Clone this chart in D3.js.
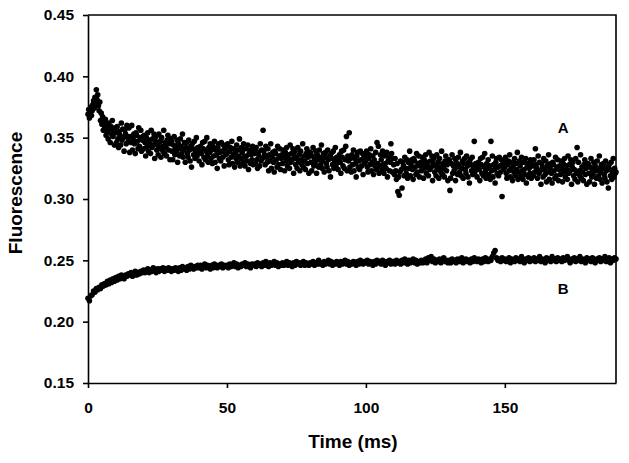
<!DOCTYPE html>
<html>
<head>
<meta charset="utf-8">
<script src="https://cdn.jsdelivr.net/npm/d3@7"></script>
<style>
  html, body { margin: 0; padding: 0; background: #fff; }
  svg { display: block; }
  text { font-family: "Liberation Sans", Arial, sans-serif; font-weight: bold; fill: #000; }
</style>
</head>
<body>
<svg id="chart" width="629" height="463"></svg>
<script>
// ---- data ----
// Trace A sampled every 0.25 ms, trace B every 0.5 ms, both starting at 0 ms.
const stepA = 0.25;
const stepB = 0.5;

const seriesA = [
  0.369,0.373,0.366,0.371,0.375,0.368,0.372,0.377,0.380,0.374,0.383,0.378,0.389,0.381,0.385,0.376,0.372,0.379,0.364,0.370,
  0.361,0.367,0.356,0.363,0.358,0.365,0.352,0.360,0.355,0.349,0.362,0.357,0.346,0.359,0.353,0.364,0.351,0.356,0.344,0.358,
  0.354,0.346,0.359,0.349,0.342,0.355,0.352,0.344,0.362,0.348,0.357,0.350,0.339,0.356,0.353,0.345,0.360,0.351,0.347,0.358,
  0.338,0.351,0.346,0.360,0.340,0.349,0.353,0.345,0.337,0.354,0.352,0.347,0.341,0.358,0.343,0.350,0.356,0.339,0.348,0.351,
  0.341,0.352,0.346,0.335,0.350,0.343,0.354,0.339,0.348,0.345,0.337,0.356,0.342,0.349,0.344,0.353,0.333,0.347,0.351,0.340,
  0.344,0.336,0.353,0.341,0.347,0.334,0.350,0.343,0.339,0.356,0.337,0.346,0.342,0.335,0.348,0.352,0.340,0.345,0.332,0.349,
  0.347,0.339,0.332,0.344,0.351,0.336,0.342,0.338,0.348,0.330,0.345,0.341,0.335,0.349,0.343,0.337,0.353,0.334,0.340,0.346,
  0.330,0.342,0.346,0.337,0.334,0.348,0.340,0.331,0.343,0.326,0.345,0.341,0.336,0.347,0.333,0.339,0.350,0.335,0.342,0.338,
  0.331,0.340,0.343,0.337,0.328,0.346,0.341,0.334,0.347,0.332,0.339,0.350,0.335,0.330,0.342,0.338,0.345,0.333,0.340,0.329,
  0.343,0.335,0.347,0.330,0.340,0.336,0.325,0.342,0.345,0.333,0.338,0.331,0.346,0.339,0.334,0.344,0.327,0.341,0.336,0.343,
  0.337,0.345,0.332,0.328,0.339,0.342,0.334,0.347,0.329,0.336,0.341,0.326,0.338,0.333,0.344,0.330,0.340,0.335,0.349,0.327,
  0.333,0.342,0.338,0.330,0.345,0.334,0.327,0.341,0.335,0.331,0.344,0.324,0.337,0.340,0.329,0.336,0.332,0.343,0.328,0.339,
  0.337,0.329,0.342,0.332,0.325,0.338,0.335,0.327,0.345,0.331,0.340,0.333,0.356,0.339,0.336,0.328,0.343,0.334,0.330,0.341,
  0.323,0.336,0.331,0.345,0.325,0.334,0.338,0.330,0.322,0.339,0.337,0.332,0.326,0.343,0.328,0.335,0.341,0.324,0.333,0.336,
  0.329,0.340,0.334,0.323,0.338,0.331,0.342,0.327,0.336,0.333,0.325,0.344,0.330,0.337,0.332,0.341,0.321,0.335,0.339,0.328,
  0.333,0.325,0.342,0.330,0.336,0.323,0.339,0.332,0.328,0.345,0.326,0.335,0.331,0.324,0.337,0.341,0.329,0.334,0.321,0.338,
  0.338,0.330,0.323,0.335,0.342,0.327,0.333,0.329,0.339,0.321,0.336,0.332,0.326,0.340,0.334,0.328,0.344,0.325,0.331,0.337,
  0.322,0.334,0.338,0.329,0.326,0.340,0.332,0.323,0.335,0.318,0.337,0.333,0.328,0.339,0.325,0.331,0.342,0.327,0.334,0.330,
  0.324,0.333,0.336,0.330,0.321,0.339,0.334,0.327,0.340,0.325,0.332,0.343,0.351,0.323,0.335,0.331,0.354,0.326,0.333,0.322,
  0.336,0.328,0.340,0.323,0.333,0.329,0.318,0.335,0.338,0.326,0.331,0.324,0.339,0.332,0.327,0.337,0.320,0.334,0.329,0.336,
  0.331,0.339,0.326,0.322,0.333,0.336,0.328,0.341,0.323,0.330,0.335,0.320,0.332,0.327,0.338,0.324,0.346,0.329,0.343,0.321,
  0.327,0.336,0.332,0.324,0.339,0.328,0.321,0.335,0.329,0.325,0.338,0.318,0.331,0.334,0.323,0.330,0.345,0.337,0.322,0.333,
  0.328,0.320,0.333,0.323,0.316,0.329,0.306,0.318,0.303,0.322,0.331,0.324,0.309,0.330,0.327,0.319,0.334,0.325,0.321,0.332,
  0.317,0.330,0.325,0.339,0.319,0.328,0.332,0.324,0.316,0.333,0.331,0.326,0.320,0.337,0.322,0.329,0.335,0.318,0.327,0.330,
  0.323,0.334,0.328,0.317,0.332,0.325,0.336,0.321,0.330,0.327,0.319,0.338,0.324,0.331,0.326,0.335,0.315,0.329,0.333,0.322,
  0.327,0.319,0.336,0.324,0.330,0.317,0.333,0.326,0.322,0.339,0.320,0.329,0.325,0.318,0.331,0.335,0.323,0.328,0.315,0.332,
  0.332,0.307,0.317,0.329,0.336,0.321,0.327,0.323,0.333,0.315,0.330,0.326,0.320,0.334,0.328,0.322,0.338,0.319,0.325,0.331,
  0.317,0.329,0.333,0.324,0.321,0.335,0.327,0.318,0.330,0.313,0.332,0.328,0.323,0.334,0.320,0.326,0.347,0.322,0.329,0.325,
  0.318,0.327,0.330,0.324,0.315,0.333,0.328,0.321,0.334,0.319,0.326,0.337,0.322,0.317,0.329,0.325,0.332,0.320,0.327,0.316,
  0.347,0.323,0.335,0.318,0.328,0.324,0.313,0.330,0.333,0.321,0.326,0.319,0.334,0.327,0.322,0.332,0.302,0.329,0.324,0.331,
  0.326,0.334,0.321,0.317,0.328,0.331,0.323,0.336,0.318,0.325,0.330,0.315,0.327,0.322,0.333,0.319,0.329,0.324,0.338,0.316,
  0.322,0.331,0.327,0.319,0.334,0.323,0.316,0.330,0.324,0.320,0.333,0.313,0.326,0.329,0.318,0.325,0.321,0.332,0.317,0.328,
  0.327,0.319,0.332,0.322,0.341,0.328,0.325,0.317,0.335,0.321,0.330,0.323,0.312,0.329,0.326,0.318,0.333,0.324,0.320,0.331,
  0.314,0.327,0.322,0.336,0.316,0.325,0.329,0.321,0.313,0.330,0.328,0.323,0.317,0.334,0.319,0.326,0.332,0.315,0.324,0.327,
  0.320,0.331,0.325,0.314,0.329,0.322,0.333,0.318,0.327,0.324,0.316,0.335,0.321,0.328,0.323,0.332,0.312,0.326,0.330,0.319,
  0.324,0.316,0.333,0.321,0.342,0.314,0.330,0.323,0.319,0.336,0.317,0.326,0.322,0.315,0.328,0.332,0.320,0.325,0.312,0.329,
  0.329,0.321,0.314,0.326,0.333,0.318,0.324,0.320,0.330,0.312,0.327,0.323,0.317,0.331,0.325,0.319,0.335,0.316,0.322,0.328,
  0.313,0.325,0.329,0.320,0.317,0.331,0.323,0.314,0.326,0.309,0.328,0.324,0.319,0.330,0.316,0.322,0.333,0.318,0.325,0.321,
  0.322
];

const seriesB = [
  0.219,0.217,0.221,0.222,0.225,0.224,0.227,0.226,0.228,0.227,0.230,0.229,0.231,0.230,0.233,0.231,0.234,0.232,0.235,0.233,
  0.236,0.234,0.237,0.235,0.238,0.236,0.235,0.238,0.237,0.239,0.238,0.240,0.237,0.239,0.241,0.238,0.240,0.239,0.241,0.240,
  0.242,0.240,0.241,0.243,0.240,0.242,0.241,0.244,0.242,0.240,0.243,0.241,0.243,0.242,0.244,0.241,0.243,0.242,0.244,0.243,
  0.241,0.243,0.242,0.244,0.243,0.241,0.244,0.242,0.245,0.243,0.244,0.242,0.245,0.243,0.246,0.244,0.243,0.245,0.244,0.246,
  0.244,0.246,0.243,0.245,0.247,0.244,0.246,0.245,0.243,0.246,0.244,0.247,0.245,0.244,0.246,0.245,0.247,0.244,0.246,0.245,
  0.246,0.244,0.247,0.245,0.246,0.248,0.245,0.247,0.244,0.246,0.245,0.247,0.246,0.248,0.245,0.247,0.246,0.244,0.247,0.246,
  0.247,0.245,0.248,0.246,0.247,0.245,0.248,0.246,0.249,0.247,0.245,0.248,0.246,0.247,0.249,0.246,0.248,0.245,0.247,0.246,
  0.248,0.246,0.247,0.249,0.246,0.248,0.247,0.245,0.248,0.246,0.249,0.247,0.248,0.246,0.247,0.249,0.246,0.248,0.247,0.246,
  0.248,0.247,0.249,0.246,0.248,0.247,0.250,0.247,0.248,0.246,0.249,0.247,0.248,0.250,0.247,0.249,0.246,0.248,0.247,0.249,
  0.248,0.246,0.249,0.247,0.248,0.250,0.247,0.249,0.246,0.248,0.247,0.249,0.248,0.246,0.249,0.247,0.250,0.248,0.247,0.249,
  0.248,0.250,0.247,0.249,0.248,0.246,0.249,0.247,0.250,0.248,0.249,0.247,0.250,0.248,0.246,0.249,0.248,0.250,0.247,0.249,
  0.249,0.247,0.250,0.248,0.249,0.247,0.250,0.248,0.251,0.249,0.247,0.250,0.248,0.249,0.251,0.248,0.250,0.247,0.249,0.248,
  0.250,0.248,0.249,0.251,0.248,0.252,0.250,0.253,0.249,0.251,0.248,0.250,0.249,0.251,0.248,0.250,0.252,0.249,0.250,0.248,
  0.250,0.248,0.251,0.249,0.250,0.248,0.251,0.250,0.249,0.252,0.248,0.250,0.251,0.249,0.250,0.248,0.251,0.249,0.252,0.250,
  0.249,0.251,0.250,0.248,0.251,0.249,0.252,0.250,0.249,0.251,0.250,0.253,0.256,0.258,0.252,0.250,0.251,0.249,0.252,0.250,
  0.251,0.249,0.250,0.252,0.248,0.251,0.250,0.249,0.252,0.250,0.251,0.249,0.253,0.250,0.248,0.251,0.250,0.252,0.249,0.251,
  0.250,0.252,0.249,0.251,0.250,0.253,0.249,0.251,0.250,0.248,0.252,0.250,0.251,0.249,0.253,0.250,0.251,0.249,0.252,0.250,
  0.251,0.249,0.252,0.250,0.251,0.253,0.250,0.248,0.251,0.250,0.252,0.249,0.251,0.250,0.253,0.249,0.251,0.250,0.248,0.252,
  0.250,0.251,0.249,0.252,0.250,0.248,0.251,0.250,0.252,0.249,0.251,0.250,0.253,0.249,0.250,0.252,0.248,0.251,0.250,0.252,
  0.251
];

const seriesLabels = [
  { name: "A", t: 171, v: 0.354 },
  { name: "B", t: 171, v: 0.2226 }
];

const xTicks = [0, 50, 100, 150];
const yTicks = [0.15, 0.20, 0.25, 0.30, 0.35, 0.40, 0.45];
const xDomain = [0, 190];
const yDomain = [0.15, 0.45];
const xTitle = "Time (ms)";
const yTitle = "Fluorescence";

// ---- layout ----
const svg = d3.select("#chart");
const margin = { left: 88, right: 13, top: 15, bottom: 80 };
const W = 629, H = 463;
const x = d3.scaleLinear().domain(xDomain).range([margin.left, W - margin.right]);
const y = d3.scaleLinear().domain(yDomain).range([H - margin.bottom, margin.top]);

const toPoints = (arr, step) => arr.map((v, i) => ({ t: i * step, v }));

// frame (top + right)
svg.append("path")
  .attr("d", `M${x(xDomain[0])},${y(yDomain[1])}H${x(xDomain[1])}V${y(yDomain[0])}`)
  .attr("fill", "none").attr("stroke", "#000").attr("stroke-width", 1.6);

// data
const pts = svg.append("g");
[[seriesA, stepA], [seriesB, stepB]].forEach(([s, step]) => {
  pts.append("g").selectAll("circle").data(toPoints(s, step)).join("circle")
    .attr("cx", d => x(d.t)).attr("cy", d => y(d.v)).attr("r", 2.8)
    .attr("fill", "#000");
});

// axes
const xAxis = svg.append("g").attr("transform", `translate(0,${y(yDomain[0])})`)
  .call(d3.axisBottom(x).tickValues(xTicks).tickSize(5).tickPadding(14).tickSizeOuter(0));
const yAxis = svg.append("g").attr("transform", `translate(${x(xDomain[0])},0)`)
  .call(d3.axisLeft(y).tickValues(yTicks).tickSize(5).tickPadding(9).tickSizeOuter(0).tickFormat(d3.format(".2f")));
[xAxis, yAxis].forEach(g => {
  g.select(".domain").attr("stroke-width", 1.6);
  g.selectAll(".tick line").attr("stroke-width", 1.6);
  g.selectAll(".tick text").attr("font-size", 15.5).attr("font-family", "Liberation Sans, Arial, sans-serif").attr("font-weight", "bold");
});

// titles
svg.append("text").attr("x", (x(xDomain[0]) + x(xDomain[1])) / 2 + 1).attr("y", 448)
  .attr("text-anchor", "middle").attr("font-size", 19).text(xTitle);
svg.append("text").attr("transform", `translate(22,${(y(yDomain[0]) + y(yDomain[1])) / 2 - 6}) rotate(-90)`)
  .attr("text-anchor", "middle").attr("font-size", 19).text(yTitle);

// series labels
svg.append("g").selectAll("text").data(seriesLabels).join("text")
  .attr("x", d => x(d.t)).attr("y", d => y(d.v))
  .attr("text-anchor", "middle").attr("font-size", 15).text(d => d.name);
</script>
</body>
</html>
